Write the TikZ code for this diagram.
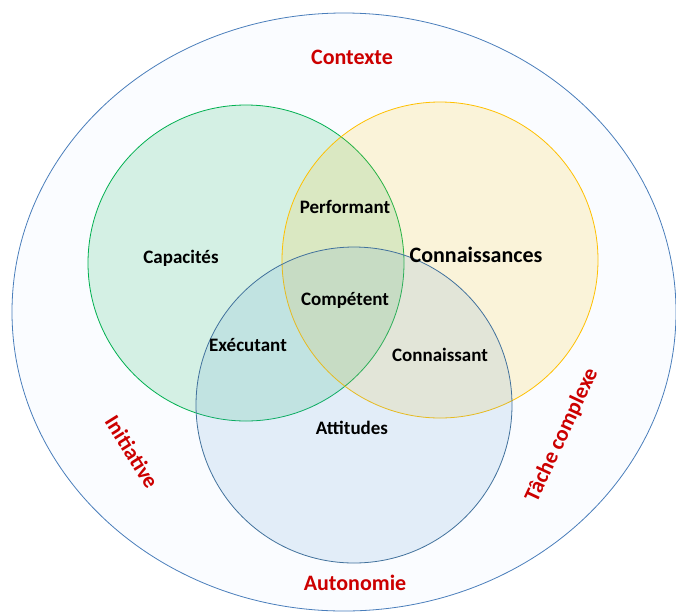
\documentclass[tikz,border=0pt]{standalone}
\usepackage{fontspec}
\setmainfont{Carlito}

\definecolor{ringline}{RGB}{74,126,187}
\definecolor{ringfill}{RGB}{250,252,255}
\definecolor{capgreen}{RGB}{0,176,80}
\definecolor{conyellow}{RGB}{255,192,0}
\definecolor{attblue}{RGB}{91,155,213}
\definecolor{attline}{RGB}{65,113,156}
\definecolor{labelred}{RGB}{204,0,0}

\tikzset{
  inner/.style={font=\fontsize{19}{21}\selectfont\bfseries, text=black},
  outer/.style={font=\fontsize{22}{25}\selectfont\bfseries, text=labelred},
  set/.style={fill opacity=0.15, line width=0.8pt}
}

\begin{document}
\begin{tikzpicture}[x=1pt, y=-1pt]
\useasboundingbox (0,0) rectangle (676,611);
\clip (0,0) rectangle (676,611);

\draw[color=ringline, fill=ringfill, line width=0.8pt] (344,312) ellipse [x radius=332, y radius=299];

\draw[set, color=capgreen, fill=capgreen] (246,263) circle [radius=158];
\draw[set, color=conyellow, fill=conyellow] (440,260) circle [radius=158];
\draw[set, color=attline, fill=attblue] (354,405) circle [radius=158];

% sets and their overlaps
\node[inner] (capacites) at (181,258) {Capacités};
\node[inner, font=\fontsize{22}{25}\selectfont\bfseries] (connaissances) at (476,255) {Connaissances};
\node[inner] (performant) at (345,207) {Performant};
\node[inner] (competent) at (345,300) {Compétent};
\node[inner] (executant) at (248,345) {Exécutant};
\node[inner] (connaissant) at (440,355) {Connaissant};
\node[inner] (attitudes) at (352,428) {Attitudes};

% the ring
\node[outer] (contexte) at (352,57) {Contexte};
\node[outer] (autonomie) at (355,583) {Autonomie};
\node[outer, rotate=-58] (initiative) at (132,452) {Initiative};
\node[outer, rotate=65] (tache) at (562,435) {Tâche complexe};
\end{tikzpicture}
\end{document}
